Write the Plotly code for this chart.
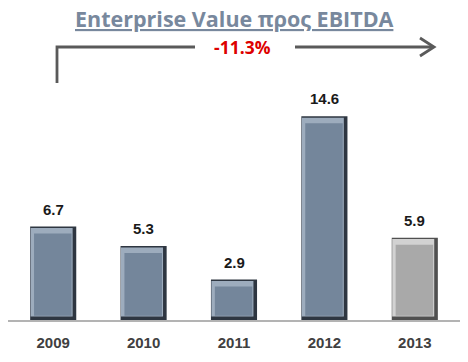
import plotly.graph_objects as go

years = ["2009", "2010", "2011", "2012", "2013"]
values = [6.7, 5.3, 2.9, 14.6, 5.9]
value_labels = ["6.7", "5.3", "2.9", "14.6", "5.9"]
title_text = "<b><u>Enterprise Value προς EBITDA</u></b>"
change_text = "-11.3%"

face_colors = ["#74869b", "#74869b", "#74869b", "#74869b", "#a9a9a9"]
edge_colors = ["#2e3641", "#2e3641", "#2e3641", "#2e3641", "#505050"]
light_colors = ["#9dacbd", "#9dacbd", "#9dacbd", "#9dacbd", "#d2d2d2"]

fig = go.Figure()
# outer dark edge
fig.add_trace(go.Bar(x=years, y=values, width=0.51, offset=-0.255,
                     marker=dict(color=edge_colors, line=dict(width=0)), hoverinfo="skip"))
# light top / left bevel
fig.add_trace(go.Bar(x=years, y=[v - 0.35 for v in values], base=0.25, width=0.465, offset=-0.25,
                     marker=dict(color=light_colors, line=dict(width=0)), hoverinfo="skip"))
# face
fig.add_trace(go.Bar(x=years, y=[v - 0.8 for v in values], base=0.3, width=0.415, offset=-0.212,
                     marker=dict(color=face_colors, line=dict(width=0)), hoverinfo="skip"))

for i, (v, lab) in enumerate(zip(values, value_labels)):
    fig.add_annotation(x=i, y=v, xref="x", yref="y", text="<b>" + lab + "</b>", showarrow=False,
                       yanchor="bottom", yshift=7,
                       font=dict(family="Liberation Sans, Arial", size=15, color="#1a1a1a"))

fig.update_layout(
    barmode="overlay",
    width=468, height=362,
    margin=dict(l=8, r=8, t=0, b=42),
    paper_bgcolor="white", plot_bgcolor="white",
    showlegend=False,
    xaxis=dict(type="category", range=[-0.5, 4.5], showgrid=False, showline=True,
               linecolor="#b3b3b3", linewidth=1.5, ticks="", ticklabelstandoff=8,
               tickfont=dict(family="Liberation Sans, Arial", size=15, color="#404040"),
               tickprefix="<b>", ticksuffix="</b>"),
    yaxis=dict(range=[0, 22.94], visible=False, showgrid=False),
    font=dict(family="Liberation Sans, Arial"),
)

def px(xp):
    return (xp - 8) / 452

def py(yp):
    return (320 - yp) / 320

# title
fig.add_annotation(text=title_text, xref="paper", yref="paper", x=px(234), y=py(18),
                   showarrow=False, font=dict(family="Open Sans, DejaVu Sans", size=21.5, color="#78889d"),
                   yanchor="middle")
# change label
fig.add_annotation(text="<b>" + change_text + "</b>", xref="paper", yref="paper",
                   x=px(242), y=py(47), showarrow=False,
                   font=dict(family="Open Sans, DejaVu Sans", size=17.5, color="#dd0000"), yanchor="middle")

arrow_color = "#5a5a5a"
fig.add_shape(type="path", xref="paper", yref="paper",
              path=f"M {px(57)} {py(83)} L {px(57)} {py(47)} L {px(195)} {py(47)}",
              line=dict(color=arrow_color, width=2.8))
fig.add_shape(type="line", xref="paper", yref="paper", x0=px(295), y0=py(47), x1=px(433), y1=py(47),
              line=dict(color=arrow_color, width=2.8))
fig.add_shape(type="path", xref="paper", yref="paper",
              path=f"M {px(420)} {py(38)} L {px(434)} {py(47)} L {px(420)} {py(56)}",
              line=dict(color=arrow_color, width=2.8))

fig.write_html("out.html", config={"displayModeBar": False},
               post_script="document.body.style.margin='0px';")
